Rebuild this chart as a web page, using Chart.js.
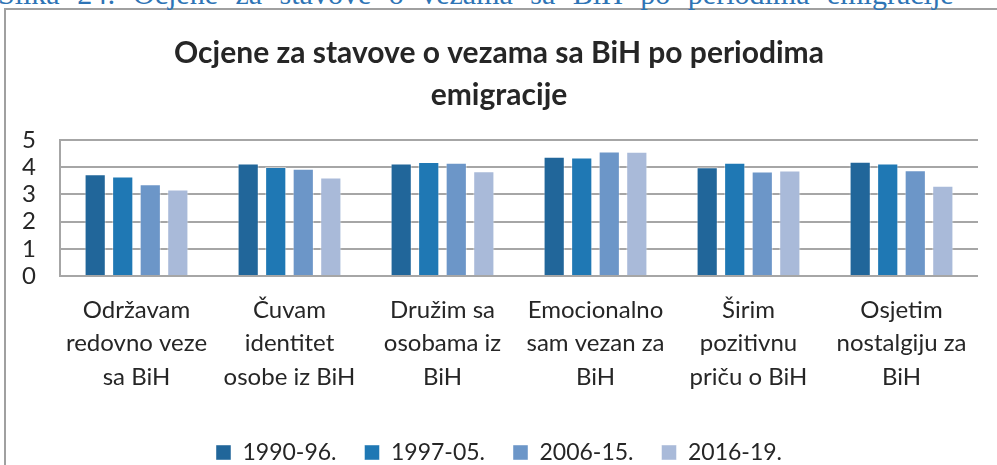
<!DOCTYPE html>
<html>
<head>
<meta charset="utf-8">
<script src="https://cdn.jsdelivr.net/npm/chart.js@4.4.0/dist/chart.umd.min.js"></script>
<style>
  html, body { margin: 0; padding: 0; background: #fff; overflow: hidden; }
  #wrap { position: relative; width: 997px; height: 465px; overflow: hidden; }
  #caption {
    position: absolute; left: -2px; top: -21px; width: 1000px; white-space: nowrap;
    font-family: "Liberation Serif", serif; font-size: 30px; line-height: 30px;
    color: #2e74b5; word-spacing: 10px;
  }
  #frame {
    position: absolute; left: 4px; top: 8px; width: 1100px; height: 600px;
    border: 2px solid #a0a0a0; background: #fff;
  }
  canvas { position: absolute; left: 0; top: 0; }
</style>
</head>
<body>
<div id="wrap">
  <div id="frame"></div>
  <div id="caption">Slika 24: Ocjene za stavove o vezama sa BiH po periodima emigracije</div>
  <canvas id="chart" width="997" height="465"></canvas>
</div>
<script>
const categories = [
  ["Održavam", "redovno veze", "sa BiH"],
  ["Čuvam", "identitet", "osobe iz BiH"],
  ["Družim sa", "osobama iz", "BiH"],
  ["Emocionalno", "sam vezan za", "BiH"],
  ["Širim", "pozitivnu", "priču o BiH"],
  ["Osjetim", "nostalgiju za", "BiH"]
];
const seriesNames = ["1990-96.", "1997-05.", "2006-15.", "2016-19."];
const s1990 = [3.74, 4.14, 4.14, 4.38, 4.00, 4.20];
const s1997 = [3.66, 4.01, 4.19, 4.36, 4.16, 4.14];
const s2006 = [3.37, 3.94, 4.16, 4.58, 3.84, 3.89];
const s2016 = [3.18, 3.62, 3.85, 4.57, 3.88, 3.32];
const colors = ["#21669a", "#1f78b4", "#6c96c8", "#a9bad9"];
const yTicks = [0, 1, 2, 3, 4, 5];

const FONT = "Lato";
const seriesData = [s1990, s1997, s2006, s2016];

new Chart(document.getElementById("chart"), {
  type: "bar",
  data: {
    labels: categories,
    datasets: seriesData.map((d, i) => ({
      label: seriesNames[i],
      data: d,
      backgroundColor: colors[i],
      borderColor: "rgba(255,255,255,0.45)",
      borderWidth: 1,
      categoryPercentage: 0.72,
      barPercentage: 0.77
    }))
  },
  options: {
    responsive: false,
    animation: false,
    // negative bottom padding pushes the legend down to the frame edge
    layout: { padding: { left: 20, right: 19, top: 0, bottom: -9 } },
    scales: {
      x: {
        afterFit: (s) => { s.height = 137; },
        grid: { display: false, drawTicks: false },
        border: { display: false },
        ticks: {
          color: "#262626",
          maxRotation: 0,
          autoSkip: false,
          padding: 18,
          font: { family: FONT, size: 24, lineHeight: 1.38 }
        }
      },
      y: {
        min: 0,
        max: 5,
        afterFit: (s) => { s.width = 40; },
        afterBuildTicks: (s) => { s.ticks = yTicks.map((v) => ({ value: v })); },
        grid: { color: "#a6a6a6", lineWidth: 2, drawTicks: false },
        border: { display: true, color: "#a6a6a6", width: 2 },
        ticks: {
          color: "#262626",
          autoSkip: false,
          padding: 24,
          font: { family: FONT, size: 24 }
        }
      }
    },
    plugins: {
      title: {
        display: true,
        text: ["Ocjene za stavove o vezama sa BiH po periodima", "emigracije"],
        color: "#262626",
        font: { family: FONT, size: 30, weight: "bold", lineHeight: 1.4 },
        padding: { top: 32, bottom: 24 }
      },
      legend: {
        position: "bottom",
        labels: {
          color: "#262626",
          boxWidth: 15,
          boxHeight: 15,
          padding: 28,
          font: { family: FONT, size: 23 }
        }
      },
      tooltip: { enabled: false }
    }
  }
});
</script>
</body>
</html>
